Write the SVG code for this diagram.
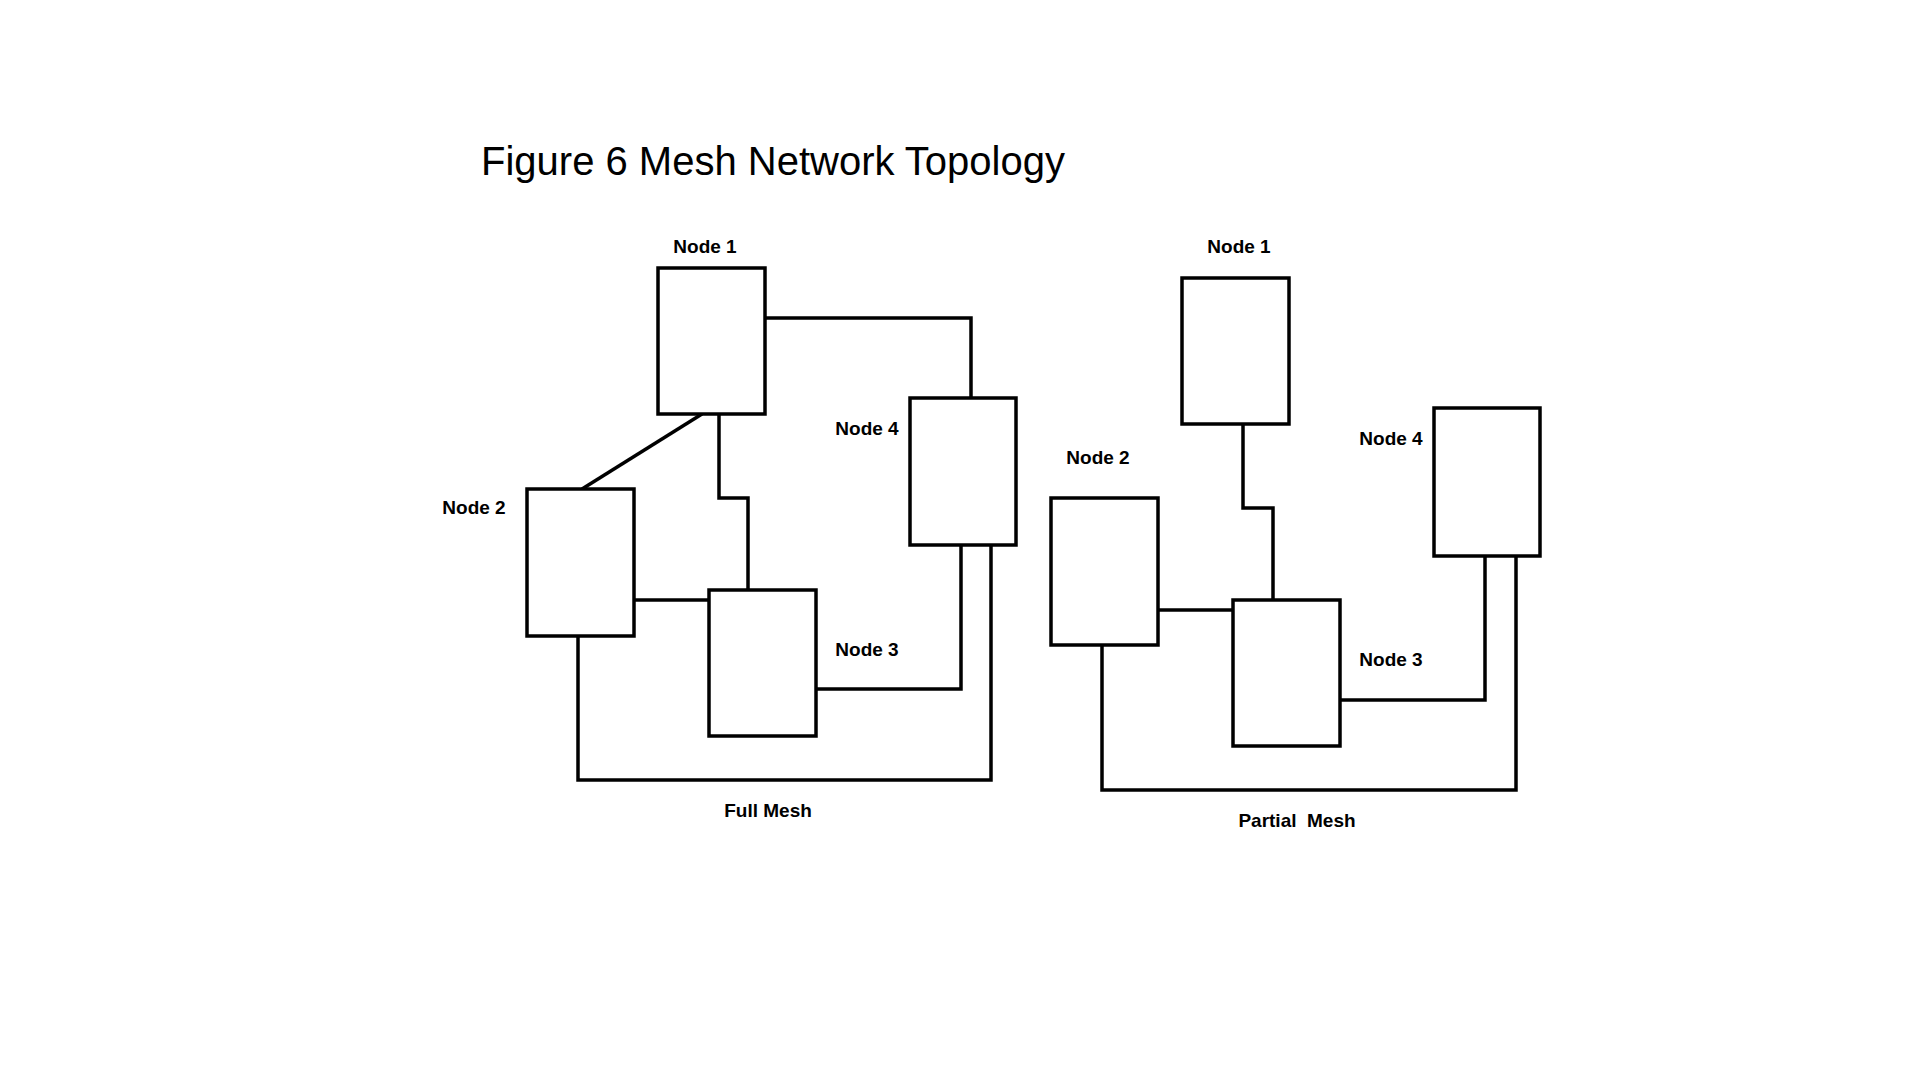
<svg xmlns="http://www.w3.org/2000/svg" width="1920" height="1080" viewBox="0 0 1920 1080">
<style>
.n{fill:#fff;stroke:#000;stroke-width:3.5}
.c{fill:none;stroke:#000;stroke-width:3.5}
.l{font-family:"Liberation Sans",Arial,sans-serif;font-size:19px;font-weight:bold;text-anchor:middle}
.t{font-family:"Liberation Sans",Arial,sans-serif;font-size:40px}
</style>
<rect width="1920" height="1080" fill="#fff"/>
<text class="t" x="481" y="175">Figure 6 Mesh Network Topology</text>
<g id="connectors">
<polyline class="c" points="765,318 971,318 971,398"/>
<line class="c" x1="702" y1="414" x2="582" y2="489"/>
<polyline class="c" points="719,414 719,498 748,498 748,590"/>
<line class="c" x1="634" y1="600" x2="709" y2="600"/>
<polyline class="c" points="816,689 961,689 961,545"/>
<polyline class="c" points="578,636 578,780 991,780 991,545"/>
<polyline class="c" points="1243,424 1243,508 1273,508 1273,600"/>
<line class="c" x1="1158" y1="610" x2="1233" y2="610"/>
<polyline class="c" points="1340,700 1485,700 1485,556"/>
<polyline class="c" points="1102,645 1102,790 1516,790 1516,556"/>
</g>
<g id="full-node1"><rect class="n" x="658" y="268" width="107" height="146"/><text class="l" x="705" y="253">Node 1</text></g>
<g id="full-node2"><rect class="n" x="527" y="489" width="107" height="147"/><text class="l" x="474" y="514">Node 2</text></g>
<g id="full-node3"><rect class="n" x="709" y="590" width="107" height="146"/><text class="l" x="867" y="656">Node 3</text></g>
<g id="full-node4"><rect class="n" x="910" y="398" width="106" height="147"/><text class="l" x="867" y="435">Node 4</text></g>
<text class="l" x="768" y="817">Full Mesh</text>
<g id="partial-node1"><rect class="n" x="1182" y="278" width="107" height="146"/><text class="l" x="1239" y="253">Node 1</text></g>
<g id="partial-node2"><rect class="n" x="1051" y="498" width="107" height="147"/><text class="l" x="1098" y="464">Node 2</text></g>
<g id="partial-node3"><rect class="n" x="1233" y="600" width="107" height="146"/><text class="l" x="1391" y="666">Node 3</text></g>
<g id="partial-node4"><rect class="n" x="1434" y="408" width="106" height="148"/><text class="l" x="1391" y="445">Node 4</text></g>
<text class="l" x="1297" y="827" xml:space="preserve">Partial  Mesh</text>
</svg>
